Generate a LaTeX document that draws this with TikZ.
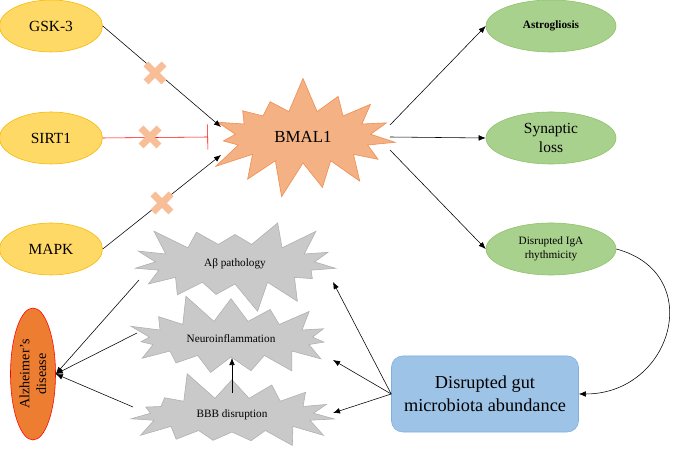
\documentclass[tikz,border=0pt]{standalone}
\usepackage{fontspec}
\setmainfont{Liberation Serif}
\usetikzlibrary{arrows.meta,shapes.geometric,shapes.symbols}

\definecolor{yelfill}{HTML}{FFD966}
\definecolor{yelline}{HTML}{F5B700}
\definecolor{grnfill}{HTML}{A9D18E}
\definecolor{grnline}{HTML}{8CC168}
\definecolor{bmalfill}{HTML}{F4B183}
\definecolor{bmalline}{HTML}{F08A4B}
\definecolor{greyfill}{HTML}{C9C9C9}
\definecolor{greyline}{HTML}{AFAFAF}
\definecolor{gutfill}{HTML}{9DC3E6}
\definecolor{gutline}{HTML}{7FB0DF}
\definecolor{adfill}{HTML}{ED7D31}
\definecolor{xcol}{HTML}{F7BE98}

\begin{document}
\begin{tikzpicture}[x=0.025cm, y=-0.025cm,
    kinase/.style={ellipse, draw=yelline, fill=yelfill, minimum width=2.575cm, minimum height=1.3cm, inner sep=0pt, font=\fontsize{11}{13}\selectfont},
    outcome/.style={ellipse, draw=grnline, fill=grnfill, minimum width=3.25cm, minimum height=1.3cm, inner sep=0pt, align=center},
    burst/.style={starburst, draw=greyline, fill=greyfill, starburst points=15, starburst point height=0.75cm, font=\fontsize{8}{10}\selectfont},
    arr/.style={-{Latex[length=5pt,width=4pt]}},
    xmark/.style={line width=5pt, xcol}
]
    \useasboundingbox (0,0) rectangle (673,457);

    % Upstream regulators
    \node[kinase] (gsk) at (51,26) {GSK-3};
    \node[kinase] (sirt) at (51,138) {SIRT1};
    \node[kinase] (mapk) at (51,249) {MAPK};

    % Clock gene
    \node[starburst, draw=bmalline, fill=bmalfill, starburst points=15, starburst point height=0.9cm, random starburst=7, minimum width=5.2cm, minimum height=3.1cm, font=\fontsize{12}{14}\selectfont] (bmal) at (303,137) {BMAL1};
    \coordinate (bmalin1) at (221,127);
    \coordinate (bmalin2) at (208,137);
    \coordinate (bmalin3) at (221,155);
    \coordinate (bmalout1) at (390,125);
    \coordinate (bmalout2) at (390,137);
    \coordinate (bmalout3) at (390,150);

    % Outcomes
    \node[outcome, font=\fontsize{8}{10}\selectfont\bfseries] (astro) at (551,26) {Astrogliosis};
    \node[outcome, font=\fontsize{11}{13}\selectfont] (syn) at (551,138) {Synaptic\\loss};
    \node[outcome, font=\fontsize{8}{10}\selectfont] (iga) at (551,249) {Disrupted IgA\\rhythmicity};

    % Gut microbiota
    \node[draw=gutline, fill=gutfill, rounded corners=8pt, minimum width=4.675cm, minimum height=1.9cm, align=center, font=\fontsize{13}{16}\selectfont] (gut) at (485,394) {Disrupted gut\\microbiota abundance};

    % Pathologies
    \node[burst, random starburst=3, minimum width=5.5cm, minimum height=2.5cm] (abeta) at (235,264) {Aβ pathology};
    \node[burst, random starburst=11, minimum width=5.6cm, minimum height=2.4cm] (neuro) at (231,339) {Neuroinflammation};
    \node[burst, random starburst=5, minimum width=5.6cm, minimum height=2.35cm] (bbb) at (232,415) {BBB disruption};
    \coordinate (abin) at (333,282);
    \coordinate (neuroin) at (333,360);
    \coordinate (bbbin) at (333,413);
    \coordinate (about) at (139,280);
    \coordinate (neuroout) at (137,333);
    \coordinate (bbbout) at (133,407);
    \coordinate (bbbup) at (232,393);
    \coordinate (neurodown) at (232,358);

    % Disease
    \node[ellipse, draw=red, fill=adfill, rotate=90, minimum width=3.3cm, minimum height=1.125cm, inner sep=0pt, align=center, font=\fontsize{10}{12}\selectfont] (ad) at (33,374) {Alzheimer's\\disease};

    % Connectors
    \draw[arr] (gsk.east) -- (bmalin1);
    \draw[red, -{Bar[width=18pt]}] (sirt.east) -- (bmalin2);
    \draw[arr] (mapk.east) -- (bmalin3);
    \draw[arr] (bmalout1) -- (astro.west);
    \draw[arr] (bmalout2) -- (syn.west);
    \draw[arr] (bmalout3) -- (iga.west);
    \draw[arr] (iga.east) to[out=-15, in=0, looseness=1.6] (gut.east);
    \draw[arr] (gut.west) -- (abin);
    \draw[arr] (gut.west) -- (neuroin);
    \draw[arr] (gut.west) -- (bbbin);
    \draw[arr] (bbbup) -- (neurodown);
    \draw[arr] (about) -- (ad.south);
    \draw[arr] (neuroout) -- (ad.south);
    \draw[arr] (bbbout) -- (ad.south);

    % Blocked links
    \foreach \cx/\cy in {155/73, 150/137, 162/203}
        \draw[xmark] (\cx-9,\cy-9) -- (\cx+9,\cy+9) (\cx-9,\cy+9) -- (\cx+9,\cy-9);
\end{tikzpicture}
\end{document}
